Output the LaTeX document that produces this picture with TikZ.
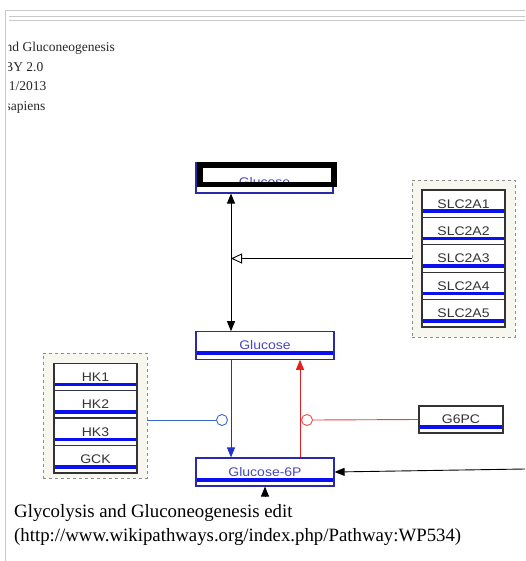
\documentclass[tikz,border=0pt]{standalone}
\usepackage{fontspec}
\setmainfont{Liberation Serif}
\setsansfont{Liberation Sans}
\usetikzlibrary{arrows.meta}
\definecolor{framegray}{HTML}{C8C8C8}
\definecolor{barblue}{HTML}{0A10F0}
\definecolor{metblue}{HTML}{2A2AA8}
\definecolor{mettext}{HTML}{4848C0}
\definecolor{genegray}{HTML}{333333}
\definecolor{groupfill}{HTML}{F7F7F0}
\definecolor{groupline}{HTML}{8C8C8C}
\definecolor{arrblue}{HTML}{2233CC}
\definecolor{lineblue}{HTML}{3A66CC}
\definecolor{arrred}{HTML}{E42020}
\newcommand\widetxt[1]{\scalebox{1.12}[1]{#1}}
\begin{document}
\begin{tikzpicture}[x=1pt,y=-1pt,
  barbox/.style={rectangle,inner sep=0pt,line width=1.1pt,fill=white,
    font=\sffamily\fontsize{12.5}{14}\selectfont,
    path picture={\fill[barblue]
      ([yshift=4.5pt]path picture bounding box.south west) rectangle
      ([yshift=8pt]path picture bounding box.south east);}},
  genebox/.style={barbox,draw=genegray,text=genegray,minimum width=83pt,minimum height=27.4pt},
  metbox/.style={barbox,draw=metblue,text=mettext,minimum width=138pt,minimum height=27.5pt},
  groupbox/.style={rectangle,draw=groupline,dashed,fill=groupfill,line width=0.8pt,inner sep=0pt},
  hdr/.style={anchor=base east,inner sep=0pt,font=\fontsize{13.5}{15}\selectfont,text=black!85},
  captext/.style={anchor=base west,inner sep=0pt,font=\fontsize{18.8}{20}\selectfont},
  ring/.style={circle,draw,fill=white,line width=0.9pt,minimum size=11pt,inner sep=0pt},
  tip/.style={-{Triangle[length=10pt,width=8pt]}},
  conn/.style={line width=0.9pt}]
\useasboundingbox (0,0) rectangle (525,561);
% frame
\draw[framegray,line width=1pt] (5.5,561) -- (5.5,11) -- (525,11);
\draw[framegray,line width=1pt] (9,17) -- (525,17);
\draw[framegray,line width=1pt] (9,20.5) -- (525,20.5);
% clipped header
\begin{scope}
\clip (8.5,25) rectangle (300,120);
\node[hdr] (h1) at (115,52) {nd Gluconeogenesis};
\node[hdr] (h2) at (43.5,71.5) {BY 2.0};
\node[hdr] (h3) at (46.5,91) {1/2013};
\node[hdr] (h4) at (45.5,110.5) {sapiens};
\end{scope}
% groups
\node[groupbox,minimum width=103pt,minimum height=157pt] (slcg) at (463.5,258.5) {};
\node[groupbox,minimum width=104pt,minimum height=125pt] (hkg) at (95,415.5) {};
% SLC genes
\node[genebox] (s1) at (463.5,203.7) {\widetxt{SLC2A1}};
\node[genebox] (s2) at (463.5,231.1) {\widetxt{SLC2A2}};
\node[genebox] (s3) at (463.5,258.5) {\widetxt{SLC2A3}};
\node[genebox] (s4) at (463.5,285.9) {\widetxt{SLC2A4}};
\node[genebox] (s5) at (463.5,313.3) {\widetxt{SLC2A5}};
% HK genes
\node[genebox] (k1) at (95.5,376.8) {\widetxt{HK1}};
\node[genebox] (k2) at (95.5,404.3) {\widetxt{HK2}};
\node[genebox] (k3) at (95.5,431.8) {\widetxt{HK3}};
\node[genebox] (k4) at (95.5,459.3) {\widetxt{GCK}};
% G6PC
\node[genebox,minimum width=84pt,minimum height=27pt] (g6pc) at (461,419.5) {\widetxt{G6PC}};
% metabolites
\node[rectangle,draw=metblue,line width=1.1pt,minimum width=137pt,minimum height=30pt,inner sep=0pt,
  text=mettext,font=\sffamily\fontsize{12.5}{14}\selectfont,text depth=0pt] (gluT) at (264.5,178) {\raisebox{-7pt}{\widetxt{Glucose}}};
\draw[black,line width=5.5pt] (200,165) rectangle (334,184.5);
\node[metbox] (gluM) at (265,345.5) {\widetxt{Glucose}};
\node[metbox,minimum height=28pt] (g6p) at (265,472) {\widetxt{Glucose-6P}};
% helper coordinates
\coordinate (ax) at (231,0);
\coordinate (rx) at (300,0);
\coordinate (rin) at (525,469);
\coordinate (bin) at (265,497);
% connectors
\draw[conn,{Triangle[length=10pt,width=8pt]}-{Triangle[length=10pt,width=8pt]}] (gluT.south -| ax) -- (gluM.north -| ax);
\draw[conn,-{Triangle[open,length=11pt,width=10pt,line width=0.9pt]}] (slcg.west) -- (slcg.west -| ax);
\draw[conn,arrblue,tip] (gluM.south -| ax) -- (g6p.north -| ax);
\draw[conn,arrred,tip] (g6p.north -| rx) -- (gluM.south -| rx);
\node[ring,draw=lineblue] (hkc) at (222,420) {};
\node[ring,draw=arrred!80] (rc) at (307,420) {};
\draw[conn,lineblue] (hkc -| hkg.east) -- (hkc.west);
\draw[conn,arrred!85] (g6pc.west) -- (rc.east);
\draw[conn,tip] (rin) -- (g6p.east);
\draw[conn,tip] (bin) -- (g6p.south);
% caption
\node[captext] (c1) at (14,517) {Glycolysis and Gluconeogenesis edit};
\node[captext] (c2) at (14,541) {(http://www.wikipathways.org/index.php/Pathway:WP534)};
\end{tikzpicture}
\end{document}
